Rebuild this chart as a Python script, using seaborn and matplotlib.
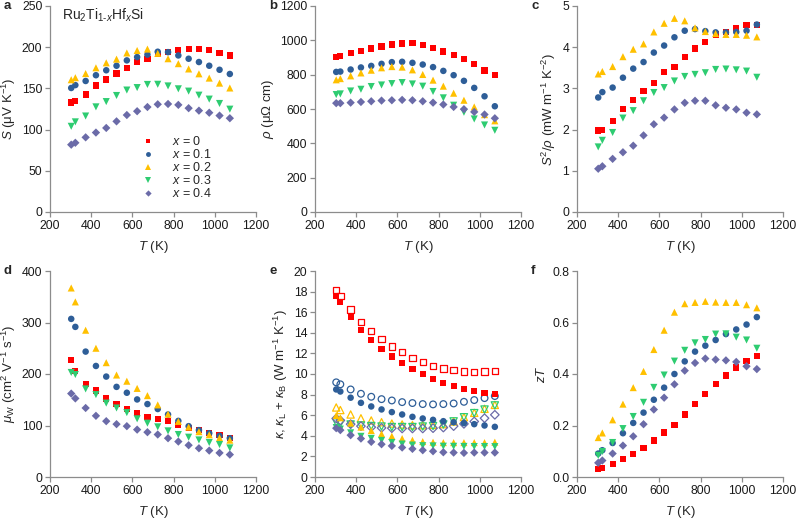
import matplotlib
matplotlib.use("Agg")
import matplotlib.pyplot as plt
import matplotlib.ticker as mticker
import numpy as np
import pandas as pd
import seaborn as sns

# ---------------- data ----------------
T = [303, 323, 373, 423, 473, 523, 573, 623, 673, 723, 773, 823, 873, 923, 973, 1023, 1073]
labels = ["$x$ = 0", "$x$ = 0.1", "$x$ = 0.2", "$x$ = 0.3", "$x$ = 0.4"]

# a: Seebeck coefficient (uV/K)
S_vals = [
    [133, 135, 142.6, 153.4, 160.8, 168, 175, 182, 186, 191.5, 194.5, 196.5, 198, 197.5, 196.5, 193, 190],
    [150.5, 154, 159, 166, 172, 177.5, 184, 188, 191, 194.5, 194, 190, 186, 182, 177.5, 172.6, 167.5],
    [160.5, 163, 168, 175, 181, 185.5, 193, 196, 197.7, 192.5, 186, 180, 173.6, 167.7, 162.5, 156.4, 150.5],
    [104, 109.4, 116.5, 127.6, 134, 141.4, 148, 151, 154.8, 155, 153, 149.5, 146.7, 141.8, 137, 131.7, 124.8],
    [81.7, 84, 90.6, 96.4, 102, 110, 117.7, 122.3, 127.4, 130.7, 131.1, 130, 126, 123, 120.5, 117, 113.8],
]
# b: electrical resistivity (uOhm cm)
rho_vals = [
    [902, 910, 925, 939, 952, 964, 976, 981, 983, 974, 954, 935, 913, 892, 863, 824, 797],
    [816, 818, 830, 842, 851, 863, 873, 875, 869, 859, 844, 822, 797, 764, 723, 674, 616],
    [770, 777, 793, 810, 826, 840, 847, 844, 828, 801, 768, 733, 692, 651, 612, 567, 531],
    [684, 688, 705, 715, 731, 740, 748, 754, 746, 733, 702, 665, 622, 581, 542, 507, 476],
    [634, 634, 637, 641, 645, 649, 651, 653, 651, 645, 637, 626, 612, 599, 583, 568, 546],
]
# c: power factor (mW m-1 K-2)
PF_vals = [
    [1.98, 1.99, 2.20, 2.50, 2.71, 2.93, 3.14, 3.39, 3.52, 3.77, 3.97, 4.13, 4.31, 4.37, 4.47, 4.53, 4.53],
    [2.78, 2.91, 3.02, 3.26, 3.48, 3.64, 3.87, 4.04, 4.24, 4.40, 4.44, 4.39, 4.36, 4.36, 4.37, 4.40, 4.55],
    [3.35, 3.41, 3.53, 3.77, 3.95, 4.08, 4.37, 4.58, 4.70, 4.64, 4.47, 4.38, 4.33, 4.31, 4.31, 4.29, 4.25],
    [1.58, 1.74, 1.93, 2.28, 2.46, 2.70, 2.90, 3.02, 3.18, 3.29, 3.34, 3.38, 3.46, 3.47, 3.45, 3.42, 3.27],
    [1.05, 1.11, 1.29, 1.45, 1.61, 1.86, 2.13, 2.29, 2.49, 2.65, 2.70, 2.70, 2.59, 2.53, 2.49, 2.41, 2.37],
]
# d: weighted mobility (cm2 V-1 s-1)
mu_vals = [
    [227, 206.5, 180, 168, 152.6, 141, 132, 125, 117, 112, 108, 101, 95, 91, 86, 81, 76],
    [307, 291.5, 243.5, 215.6, 195, 175, 163.6, 150.6, 141.6, 132, 121.4, 109, 98.7, 91, 85, 80, 75.3],
    [367, 340, 285, 250, 222, 198, 186, 172, 158, 140, 122, 108, 97, 88, 82, 76, 71.5],
    [203, 199, 171, 160, 143.5, 134, 125, 113, 104.5, 97.4, 89.6, 82.5, 77.3, 72, 67, 63, 56.5],
    [162, 152.6, 134, 118.8, 108.4, 102.6, 98.7, 92, 87, 82.5, 75.3, 68.8, 61.7, 55.8, 51.3, 46.8, 43.5],
]
# e: thermal conductivity, filled (W m-1 K-1)
kf_vals = [
    [17.56, 16.98, 15.58, 14.28, 13.3, 12.45, 11.7, 11.07, 10.49, 9.97, 9.48, 9.12, 8.8, 8.54, 8.38, 8.18, 8.05],
    [8.5, 8.3, 7.7, 7.2, 6.85, 6.56, 6.3, 6.07, 5.84, 5.68, 5.55, 5.42, 5.32, 5.23, 5.13, 5.0, 4.87],
    [5.97, 5.75, 5.23, 4.84, 4.51, 4.19, 3.96, 3.73, 3.57, 3.44, 3.38, 3.34, 3.34, 3.34, 3.34, 3.34, 3.38],
    [4.8, 4.65, 4.29, 3.95, 3.75, 3.55, 3.35, 3.2, 3.1, 3.04, 3.02, 2.99, 2.98, 2.97, 2.96, 2.96, 2.95],
    [4.74, 4.55, 4.06, 3.73, 3.41, 3.18, 3.02, 2.86, 2.73, 2.6, 2.5, 2.4, 2.37, 2.34, 2.37, 2.37, 2.37],
]
# e: open symbols (W m-1 K-1)
ko_vals = [
    [18.15, 17.6, 16.26, 15.06, 14.15, 13.37, 12.68, 12.13, 11.58, 11.19, 10.78, 10.54, 10.36, 10.26, 10.22, 10.24, 10.32],
    [9.19, 9.0, 8.5, 8.08, 7.79, 7.56, 7.43, 7.27, 7.18, 7.08, 7.05, 7.08, 7.14, 7.3, 7.47, 7.66, 7.86],
    [6.75, 6.5, 6.07, 5.7, 5.49, 5.32, 5.19, 5.1, 5.03, 5.03, 5.06, 5.13, 5.39, 5.81, 6.23, 6.62, 7.0],
    [5.3, 5.2, 5.1, 5.0, 4.95, 4.9, 4.85, 4.85, 4.85, 4.9, 4.95, 5.1, 5.4, 5.8, 6.2, 6.55, 6.95],
    [5.68, 5.49, 5.13, 4.94, 4.84, 4.77, 4.74, 4.71, 4.71, 4.71, 4.74, 4.8, 4.94, 5.16, 5.39, 5.71, 6.04],
]
# f: figure of merit zT
zT_vals = [
    [0.031, 0.035, 0.049, 0.069, 0.09, 0.114, 0.142, 0.173, 0.203, 0.243, 0.284, 0.322, 0.361, 0.394, 0.425, 0.451, 0.47],
    [0.091, 0.104, 0.132, 0.17, 0.21, 0.25, 0.3, 0.347, 0.4, 0.449, 0.487, 0.51, 0.532, 0.555, 0.573, 0.592, 0.621],
    [0.153, 0.171, 0.222, 0.283, 0.347, 0.41, 0.495, 0.57, 0.64, 0.673, 0.678, 0.682, 0.679, 0.678, 0.678, 0.669, 0.657],
    [0.084, 0.099, 0.134, 0.188, 0.235, 0.29, 0.348, 0.396, 0.45, 0.492, 0.521, 0.534, 0.555, 0.556, 0.543, 0.532, 0.5],
    [0.055, 0.064, 0.091, 0.122, 0.158, 0.205, 0.262, 0.308, 0.36, 0.413, 0.443, 0.46, 0.456, 0.453, 0.447, 0.43, 0.419],
]

colors = ["#FF0000", "#2E5E98", "#FFC000", "#2ECC71", "#6B6BA8"]
markers = ["s", "o", "^", "v", "D"]
sizes = [20, 22, 26, 26, 18]

# ---------------- style ----------------
sns.set_theme(style="ticks")
plt.rcParams["font.family"] = ["Liberation Sans", "DejaVu Sans"]
plt.rcParams["mathtext.fontset"] = "custom"
plt.rcParams["mathtext.rm"] = "Liberation Sans"
plt.rcParams["mathtext.it"] = "Liberation Sans:italic"
plt.rcParams["mathtext.bf"] = "Liberation Sans:bold"
plt.rcParams["mathtext.sf"] = "Liberation Sans"

fig = plt.figure(figsize=(7.98, 5.20), dpi=100)

W = 206 / 798
H = 206 / 520
lefts = [50 / 798, 315 / 798, 577 / 798]
bottoms = [1 - 212 / 520, 1 - 477 / 520]


def make_df(vals):
    rows = []
    for lab, v in zip(labels, vals):
        for t, y in zip(T, v):
            rows.append({"T": t, "y": y, "series": lab})
    return pd.DataFrame(rows)


def style_ax(ax, ylim, yticks, ylabel, fmt=None):
    ax.set_xlim(200, 1200)
    ax.set_xticks([200, 400, 600, 800, 1000, 1200])
    ax.set_ylim(*ylim)
    ax.set_yticks(yticks)
    if fmt:
        ax.yaxis.set_major_formatter(mticker.FormatStrFormatter(fmt))
    for sp in ["top", "right"]:
        ax.spines[sp].set_visible(False)
    for sp in ["left", "bottom"]:
        ax.spines[sp].set_color("#8C8C8C")
        ax.spines[sp].set_linewidth(0.9)
    ax.tick_params(axis="both", direction="out", length=3.5, width=0.9,
                   color="#8C8C8C", labelsize=8.8, labelcolor="#1a1a1a", pad=2)
    ax.set_xlabel("$T$ (K)", fontsize=9.5, labelpad=5)
    ax.set_ylabel(ylabel, fontsize=9.5, labelpad=3)


def plot_filled(ax, vals, legend=False):
    df = make_df(vals)
    sns.scatterplot(data=df, x="T", y="y", hue="series", style="series",
                    palette=dict(zip(labels, colors)),
                    markers=dict(zip(labels, markers)),
                    size="series", sizes=dict(zip(labels, sizes)),
                    linewidth=0, ax=ax, legend=legend, zorder=3)


panels = [
    ("a", 0, 0, S_vals, (0, 250), [0, 50, 100, 150, 200, 250], "$S$ (μV K$^{-1}$)", None),
    ("b", 1, 0, rho_vals, (0, 1200), [0, 200, 400, 600, 800, 1000, 1200], r"$\rho$ (μΩ cm)", None),
    ("c", 2, 0, PF_vals, (0, 5), [0, 1, 2, 3, 4, 5], r"$S^2/\rho$ (mW m$^{-1}$ K$^{-2}$)", None),
    ("d", 0, 1, mu_vals, (0, 400), [0, 100, 200, 300, 400], r"$\mu_{\mathrm{W}}$ (cm$^2$ V$^{-1}$ s$^{-1}$)", None),
    ("e", 1, 1, kf_vals, (0, 20), list(range(0, 21, 2)), r"$\kappa$, $\kappa_{\mathrm{L}}$ + $\kappa_{\mathrm{B}}$ (W m$^{-1}$ K$^{-1}$)", None),
    ("f", 2, 1, zT_vals, (0, 0.8), [0, 0.2, 0.4, 0.6, 0.8], "$zT$", "%.1f"),
]

for letter, col, row, vals, ylim, yticks, ylabel, fmt in panels:
    ax = fig.add_axes([lefts[col], bottoms[row], W, H])
    if letter == "e":
        # open symbols
        for v, c, m, s in zip(ko_vals, colors, markers, sizes):
            sns.scatterplot(x=T, y=v, ax=ax, marker=m, s=s * 1.05,
                            facecolor="none", edgecolor=c, linewidth=0.9, zorder=2)
    plot_filled(ax, vals, legend=(letter == "a"))
    style_ax(ax, ylim, yticks, ylabel, fmt)
    fig.text(lefts[col] - 46 / 798, bottoms[row] + H + 0 / 520, letter,
             fontsize=9.5, fontweight="bold", ha="left", va="center")
    if letter == "a":
        ax.text(0.058, 0.955, r"Ru$_2$Ti$_{1\text{-}x}$Hf$_x$Si", transform=ax.transAxes,
                fontsize=10, ha="left", va="center")
        handles, labs = ax.get_legend_handles_labels()
        leg = ax.legend(handles, labs, loc="center left", bbox_to_anchor=(0.415, 0.218),
                        frameon=False, fontsize=9, handletextpad=1.45,
                        labelspacing=0.0, borderpad=0, markerscale=0.75,
                        handlelength=1.0, handleheight=0.5)

fig.savefig("out.png", dpi=100)
